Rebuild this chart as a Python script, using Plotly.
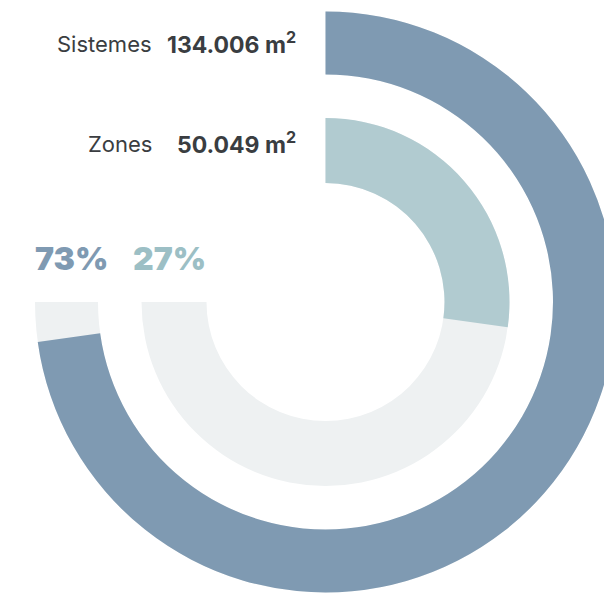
import plotly.graph_objects as go

# Floor area per category (m²)
categories = ["Sistemes", "Zones"]
areas_m2 = [134006, 50049]

total_m2 = sum(areas_m2)
shares = [a / total_m2 for a in areas_m2]

# Colours: outer ring (Sistemes), inner ring (Zones)
fill_colors = ["#7f9ab2", "#b1cbd0"]
pct_colors = ["#7f9ab2", "#9cbfc5"]
track_color = "#eef1f2"
text_color = "#3a3d41"
FONT = "Inter"

# Figure geometry (px). The ring centre sits at (W/2, H/2); the page
# box shows only the top-left 604x594, which trims the outer ring.
W, H = 651, 604
VIEW_W, VIEW_H = 604, 594
R_MAX = H / 2
ring_base = [227.5, 119.0]
ring_thick = [63.0, 65.0]
TRACK_SPAN = 270  # grey track: 12 o'clock clockwise round to 9 o'clock

fig = go.Figure()

for i, cat in enumerate(categories):
    # background track
    fig.add_trace(go.Barpolar(
        theta=[TRACK_SPAN / 2], width=[TRACK_SPAN],
        base=[ring_base[i]], r=[ring_thick[i]],
        marker=dict(color=track_color, line=dict(width=0)),
        hoverinfo="skip", name=cat + " track",
    ))
    # value arc: share of the full turn
    span = shares[i] * 360
    fig.add_trace(go.Barpolar(
        theta=[span / 2], width=[span],
        base=[ring_base[i]], r=[ring_thick[i]],
        marker=dict(color=fill_colors[i], line=dict(width=0)),
        name=cat,
        hovertemplate=f"{cat}: {areas_m2[i]:,} m²<extra></extra>",
    ))


def px(x, y):
    return x / W, 1 - y / H


def fmt_area(v):
    return f"{v:,}".replace(",", ".")


annotations = []
label_rows_y = [44, 144]
for i, cat in enumerate(categories):
    x, y = px(154, label_rows_y[i])
    annotations.append(dict(
        x=x, y=y, xref="paper", yref="paper", xanchor="right", yanchor="middle",
        text=cat, showarrow=False,
        font=dict(family=FONT, size=22, color=text_color, weight=400),
    ))
    x, y = px(298, label_rows_y[i] - 1)
    annotations.append(dict(
        x=x, y=y, xref="paper", yref="paper", xanchor="right", yanchor="middle",
        text=f"{fmt_area(areas_m2[i])} m<sup>2</sup>", showarrow=False,
        font=dict(family=FONT, size=23, color=text_color, weight=700),
    ))

pct_x = [33, 131]
for i, s in enumerate(shares):
    x, y = px(pct_x[i], 258)
    annotations.append(dict(
        x=x, y=y, xref="paper", yref="paper", xanchor="left", yanchor="middle",
        text=f"{round(s * 100)}%", showarrow=False,
        font=dict(family=FONT, size=32, color=pct_colors[i], weight=900),
    ))

fig.update_layout(
    width=W, height=H,
    margin=dict(l=0, r=0, t=0, b=0),
    paper_bgcolor="white",
    showlegend=False,
    annotations=annotations,
    polar=dict(
        domain=dict(x=[0, 1], y=[0, 1]),
        bgcolor="rgba(0,0,0,0)",
        radialaxis=dict(range=[0, R_MAX], visible=False, showgrid=False),
        angularaxis=dict(rotation=90, direction="clockwise", visible=False,
                         showgrid=False),
    ),
)

# Keep the page box at the view size so the outer ring is trimmed at the edge.
clip_js = (
    "var gd = document.getElementById('{plot_id}');"
    "var box = gd.parentElement;"
    f"box.style.width = '{VIEW_W}px'; box.style.height = '{VIEW_H}px';"
    "box.style.overflow = 'hidden';"
    "document.documentElement.style.overflow = 'hidden';"
    "document.body.style.overflow = 'hidden';"
)

fig.write_html("out.html", post_script=clip_js)
